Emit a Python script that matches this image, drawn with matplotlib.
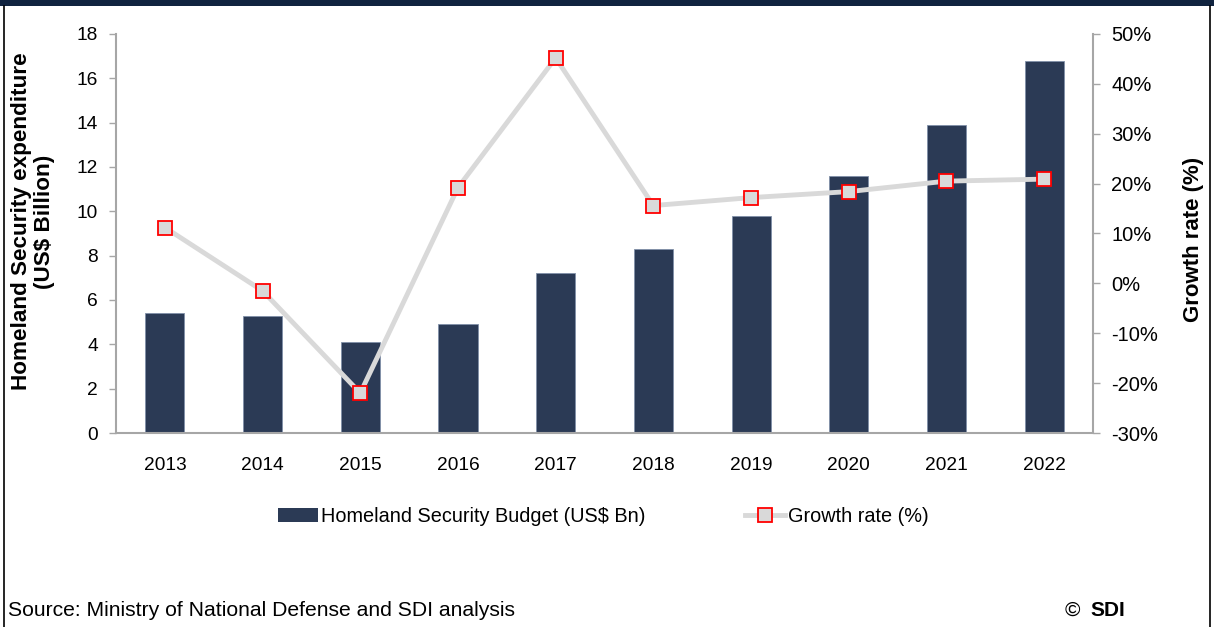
import numpy as np
import matplotlib.pyplot as plt
from matplotlib.lines import Line2D
from matplotlib.patches import Rectangle

plt.rcParams['font.family'] = ['Liberation Sans', 'DejaVu Sans']

years = ['2013', '2014', '2015', '2016', '2017', '2018', '2019', '2020', '2021', '2022']
budget = [5.4, 5.3, 4.1, 4.9, 7.2, 8.3, 9.8, 11.6, 13.9, 16.8]
growth = [11.2, -1.5, -22.0, 19.2, 45.2, 15.6, 17.2, 18.4, 20.5, 20.9]

bar_color = '#2b3a55'
line_color = '#d9d9d9'
spine_color = '#a6a6a6'

fig = plt.figure(figsize=(12.14, 6.27), dpi=100)
ax = fig.add_axes([0.0956, 0.3094, 0.8047, 0.6364])
x = np.arange(len(years))

ax.bar(x, budget, width=0.4, color=bar_color, edgecolor='#8090a8', linewidth=0.6, zorder=2)
ax.set_xlim(-0.5, len(years) - 0.5)
ax.set_ylim(0, 18)
ax.set_yticks(np.arange(0, 19, 2))
ax.set_xticks(x)
ax.set_xticklabels(years)
ax.tick_params(axis='y', direction='out', length=5, width=1, color=spine_color,
               labelsize=13.8, pad=8)
ax.tick_params(axis='x', length=0, labelsize=13.8, pad=17)
for s in ['top', 'right']:
    ax.spines[s].set_visible(False)
for s in ['left', 'bottom']:
    ax.spines[s].set_color(spine_color)
    ax.spines[s].set_linewidth(1.5)
ax.set_ylabel('Homeland Security expenditure\n(US$ Billion)', fontsize=16.2,
              fontweight='bold', linespacing=1.08)
ax.yaxis.set_label_coords(-0.063, 0.53)

ax2 = ax.twinx()
ax2.plot(x, growth, color=line_color, linewidth=3.5, marker='s', markersize=10,
         markerfacecolor=line_color, markeredgecolor='#ff0000', markeredgewidth=1.3,
         zorder=3)
ax2.set_ylim(-30, 50)
ax2.set_yticks(np.arange(-30, 51, 10))
ax2.set_yticklabels([f'{v}%' for v in range(-30, 51, 10)])
ax2.tick_params(axis='y', direction='out', length=5, width=1, color=spine_color,
                labelsize=14.5, pad=8)
for s in ['top', 'left', 'bottom']:
    ax2.spines[s].set_visible(False)
ax2.spines['right'].set_color(spine_color)
ax2.spines['right'].set_linewidth(1.5)
ax2.set_ylabel('Growth rate (%)', fontsize=16, fontweight='bold')
ax2.yaxis.set_label_coords(1.092, 0.485)

# legend
h_bar = Rectangle((0, 0), 1, 1, facecolor=bar_color)
h_line = Line2D([], [], color=line_color, linewidth=3.5, marker='s', markersize=10,
                markerfacecolor=line_color, markeredgecolor='#ff0000', markeredgewidth=1.3)
fig.legend([h_bar, h_line], ['Homeland Security Budget (US$ Bn)', 'Growth rate (%)'],
           loc='center', bbox_to_anchor=(0.497, 0.177), ncol=2, frameon=False,
           fontsize=14.3, handlelength=2.0, handletextpad=0.15, columnspacing=5.0)

# frame and header band
fig.patches.append(Rectangle((0, 0.99), 1, 0.01, transform=fig.transFigure,
                             facecolor='#10233f', edgecolor='none'))
fig.lines.append(Line2D([0.003, 0.003], [0, 0.99], transform=fig.transFigure,
                        color='black', linewidth=1.2))
fig.lines.append(Line2D([0.997, 0.997], [0, 0.99], transform=fig.transFigure,
                        color='black', linewidth=1.2))

fig.text(0.007, 0.027, 'Source: Ministry of National Defense and SDI analysis',
         fontsize=15.2, va='center', ha='left')
fig.text(0.877, 0.027, '©', fontsize=15, va='center', ha='left')
fig.text(0.898, 0.027, 'SDI', fontsize=15, fontweight='bold', va='center', ha='left')

fig.savefig('out.png', dpi=100)
